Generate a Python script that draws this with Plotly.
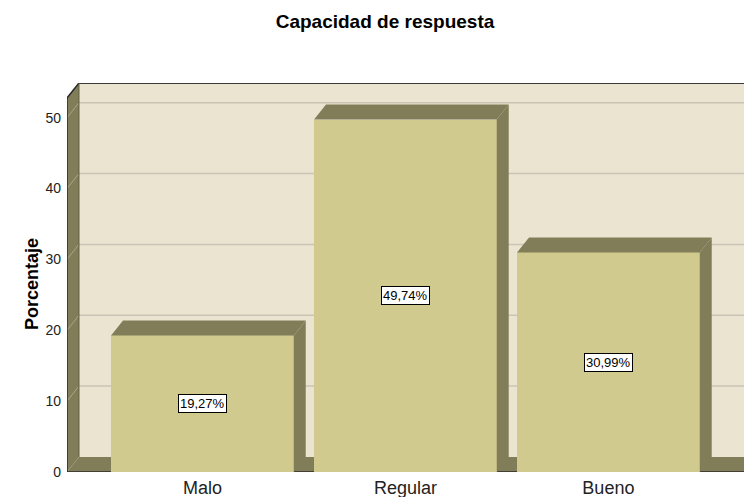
import plotly.graph_objects as go

# Capacidad de respuesta - SPSS style 3D bars
categories = ['Malo', 'Regular', 'Bueno']
porcentaje = [19.27, 49.74, 30.99]
bar_labels = ['19,27%', '49,74%', '30,99%']
y_ticks = [0, 10, 20, 30, 40, 50]

wall = '#EBE4D0'
olive = '#827D59'
bar_col = '#D0CA8F'
grid = '#C9C4B6'
FONT = 'Liberation Sans, Arial, sans-serif'

x0, x1 = -0.667, 2.668
y_top = 54.9
dx, dy = 0.059, 2.12   # depth offset in data units
w = 0.9
xs = list(range(len(categories)))

fig = go.Figure()

# front faces
fig.add_trace(go.Bar(x=xs, y=porcentaje, width=w, marker=dict(color=bar_col, line=dict(width=0)),
                     hoverinfo='skip', showlegend=False))

# top and side faces
for x, v in zip(xs, porcentaje):
    xl, xr = x - w / 2, x + w / 2
    fig.add_trace(go.Scatter(x=[xl, xl + dx, xr + dx, xr, xl], y=[v, v + dy, v + dy, v, v],
                             fill='toself', fillcolor=olive, mode='lines', line=dict(width=0),
                             hoverinfo='skip', showlegend=False))
    fig.add_trace(go.Scatter(x=[xr, xr + dx, xr + dx, xr, xr], y=[0, dy, v + dy, v, 0],
                             fill='toself', fillcolor=olive, mode='lines', line=dict(width=0),
                             hoverinfo='skip', showlegend=False))

shapes = []
# back wall
shapes.append(dict(type='rect', xref='x', yref='y', x0=x0 + dx, x1=x1 + 0.1, y0=dy, y1=y_top,
                   fillcolor=wall, line=dict(width=0), layer='below'))
# left wall
shapes.append(dict(type='path', xref='x', yref='y',
                   path=f'M {x0},0 L {x0},{y_top - dy} L {x0 + dx},{y_top} L {x0 + dx},{dy} Z',
                   fillcolor=olive, line=dict(width=0), layer='below'))
# floor
shapes.append(dict(type='path', xref='x', yref='y',
                   path=f'M {x0},0 L {x0 + dx},{dy} L {x1 + 0.1},{dy} L {x1 + 0.1},0 Z',
                   fillcolor=olive, line=dict(width=0), layer='below'))
# gridlines
for t in y_ticks[1:]:
    shapes.append(dict(type='line', xref='x', yref='y', x0=x0 + dx, x1=x1 + 0.1, y0=t + dy, y1=t + dy,
                       line=dict(color=grid, width=1.5), layer='below'))
    shapes.append(dict(type='line', xref='x', yref='y', x0=x0, x1=x0 + dx, y0=t, y1=t + dy,
                       line=dict(color='#A9A58C', width=1), layer='below'))
# dark edges
shapes.append(dict(type='line', xref='x', yref='y', x0=x0, x1=x0, y0=0, y1=y_top - dy,
                   line=dict(color='#2B2B2B', width=1.5), layer='below'))
shapes.append(dict(type='line', xref='x', yref='y', x0=x0, x1=x0 + dx, y0=y_top - dy, y1=y_top,
                   line=dict(color='#2B2B2B', width=1.5), layer='below'))
shapes.append(dict(type='line', xref='x', yref='y', x0=x0 + dx, x1=x1 + 0.1, y0=y_top, y1=y_top,
                   line=dict(color='#3A3A3A', width=2), layer='below'))
shapes.append(dict(type='line', xref='x', yref='y', x0=x0, x1=x1 + 0.1, y0=0, y1=0,
                   line=dict(color='#2B2B2B', width=1.5), layer='below'))
shapes.append(dict(type='line', xref='x', yref='y', x0=x0 + dx, x1=x0 + dx, y0=dy, y1=y_top,
                   line=dict(color='#5E5A40', width=1), layer='below'))

annotations = []
for x, v, lab in zip(xs, porcentaje, bar_labels):
    annotations.append(dict(x=x, y=v / 2, xref='x', yref='y', text=lab, showarrow=False,
                            font=dict(size=13, color='black', family=FONT),
                            bgcolor='white', bordercolor='black', borderwidth=1, borderpad=1))
# y axis title
annotations.append(dict(x=(20 - 67) / 677, y=(472 - 284) / 389, xref='paper', yref='paper',
                        text='<b>Porcentaje</b>', textangle=-90, showarrow=False,
                        font=dict(size=18, color='black', family=FONT)))

fig.update_layout(
    width=744, height=497,
    margin=dict(l=67, r=0, t=83, b=25),
    paper_bgcolor='white', plot_bgcolor='white',
    font=dict(family=FONT, color='black'),
    title=dict(text='<b>Capacidad de respuesta</b>', x=385 / 744, xref='container', xanchor='center',
               y=1 - 21 / 497, yref='container', yanchor='middle', font=dict(size=19)),
    shapes=shapes, annotations=annotations,
    bargap=0,
)
fig.update_xaxes(range=[x0, x1], tickvals=xs, ticktext=categories, showgrid=False, zeroline=False,
                 showline=False, ticks='', automargin=False, ticklabelstandoff=3,
                 tickfont=dict(size=18, color='#222222'))
fig.update_yaxes(range=[0, y_top], tickvals=y_ticks, showgrid=False, zeroline=False, showline=False,
                 ticks='', automargin=False, ticklabelstandoff=5, tickfont=dict(size=14, color='#222222'))

fig.write_html('out.html', config={'displayModeBar': False},
               post_script="document.body.style.margin='0';")
